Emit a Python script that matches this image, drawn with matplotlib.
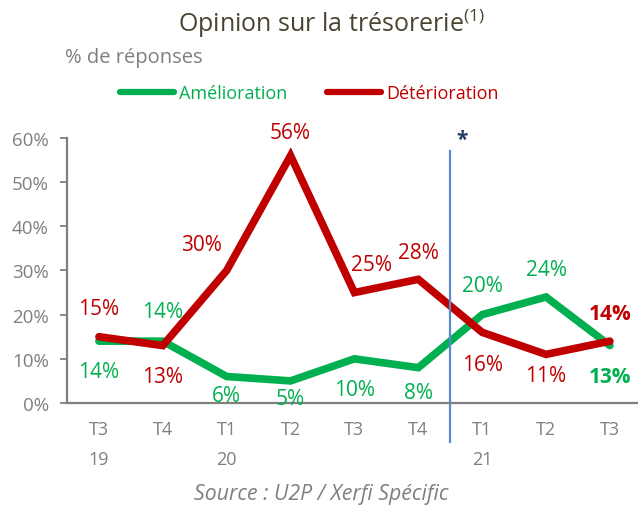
import matplotlib
matplotlib.use("Agg")
import matplotlib.pyplot as plt

periodes = ["T3\n19", "T4", "T1\n20", "T2", "T3", "T4", "T1\n21", "T2", "T3"]
amelioration = [14, 14, 6, 5, 10, 8, 20, 24, 13]
deterioration = [15, 13, 30, 56, 25, 28, 16, 11, 14]

# label offsets in points (dx, dy)
off_amel = [(0, -22), (0, 21), (0, -14), (0, -13), (0, -22), (0, -18), (0, 21), (0, 20), (0, -22)]
off_det = [(0, 20), (0, -22), (-18, 19), (0, 17), (12, 20), (0, 19), (0, -23), (0, -15), (0, 20)]

VERT = "#00B050"
ROUGE = "#C00000"
GRIS = "#7F7F7F"

plt.rcParams["font.family"] = ["Open Sans", "DejaVu Sans"]
plt.rcParams["mathtext.fontset"] = "custom"
plt.rcParams["mathtext.rm"] = "Open Sans"

fig = plt.figure(figsize=(6.38, 5.06), dpi=100)
ax = fig.add_axes([0.105, 0.2016, 0.895, 0.5237])

x = list(range(len(periodes)))
ax.plot(x, amelioration, color=VERT, lw=5.5, solid_joinstyle="miter",
        solid_capstyle="round", label="Amélioration")
ax.plot(x, deterioration, color=ROUGE, lw=5.5, solid_joinstyle="miter",
        solid_capstyle="round", label="Détérioration")

for i, v in enumerate(amelioration):
    bold = i == len(amelioration) - 1
    ax.annotate(f"{v}%", (i, v), xytext=off_amel[i], textcoords="offset points",
                ha="center", va="center", color=VERT, fontsize=15,
                fontweight="bold" if bold else "normal")
for i, v in enumerate(deterioration):
    bold = i == len(deterioration) - 1
    ax.annotate(f"{v}%", (i, v), xytext=off_det[i], textcoords="offset points",
                ha="center", va="center", color=ROUGE, fontsize=15,
                fontweight="bold" if bold else "normal")

# separation 2021
ax.plot([5.5, 5.5], [-8.8, 57], color="#5B8ACB", lw=1.6, clip_on=False)
ax.text(5.69, 59.6, "*", color="#1F3864", fontsize=15, fontweight="bold", ha="center", va="center")

ax.set_xlim(-0.5, 8.44)
ax.set_ylim(0, 60)
ax.set_yticks(range(0, 61, 10))
ax.set_yticklabels([f"{t}%" for t in range(0, 61, 10)])
ax.set_xticks(x)
ax.set_xticklabels(periodes, linespacing=1.85)
ax.tick_params(axis="x", length=0, pad=12, colors=GRIS, labelsize=13)
ax.tick_params(axis="y", length=5, width=1.3, pad=8, colors=GRIS, labelsize=13.5)
for s in ["top", "right"]:
    ax.spines[s].set_visible(False)
for s in ["left", "bottom"]:
    ax.spines[s].set_color(GRIS)
    ax.spines[s].set_linewidth(1.6)

fig.text(0.52, 0.953, "Opinion sur la trésorerie$^{(1)}$", ha="center", va="center",
         fontsize=18, color="#4A4530")
fig.text(0.102, 0.885, "% de réponses", ha="left", va="center", fontsize=14.5, color=GRIS)
fig.text(0.503, 0.022, "Source : U2P / Xerfi Spécific", ha="center", va="center",
         fontsize=15.3, color=GRIS, style="italic")

leg = ax.legend(loc="center", bbox_to_anchor=(0.485, 0.814), bbox_transform=fig.transFigure,
                ncol=2, frameon=False, fontsize=13, handlelength=3.0, handletextpad=0.3,
                columnspacing=2.2, labelcolor="linecolor", borderpad=0, borderaxespad=0)
for h in leg.get_lines():
    h.set_linewidth(4.5)

fig.savefig("out.png", dpi=100)
